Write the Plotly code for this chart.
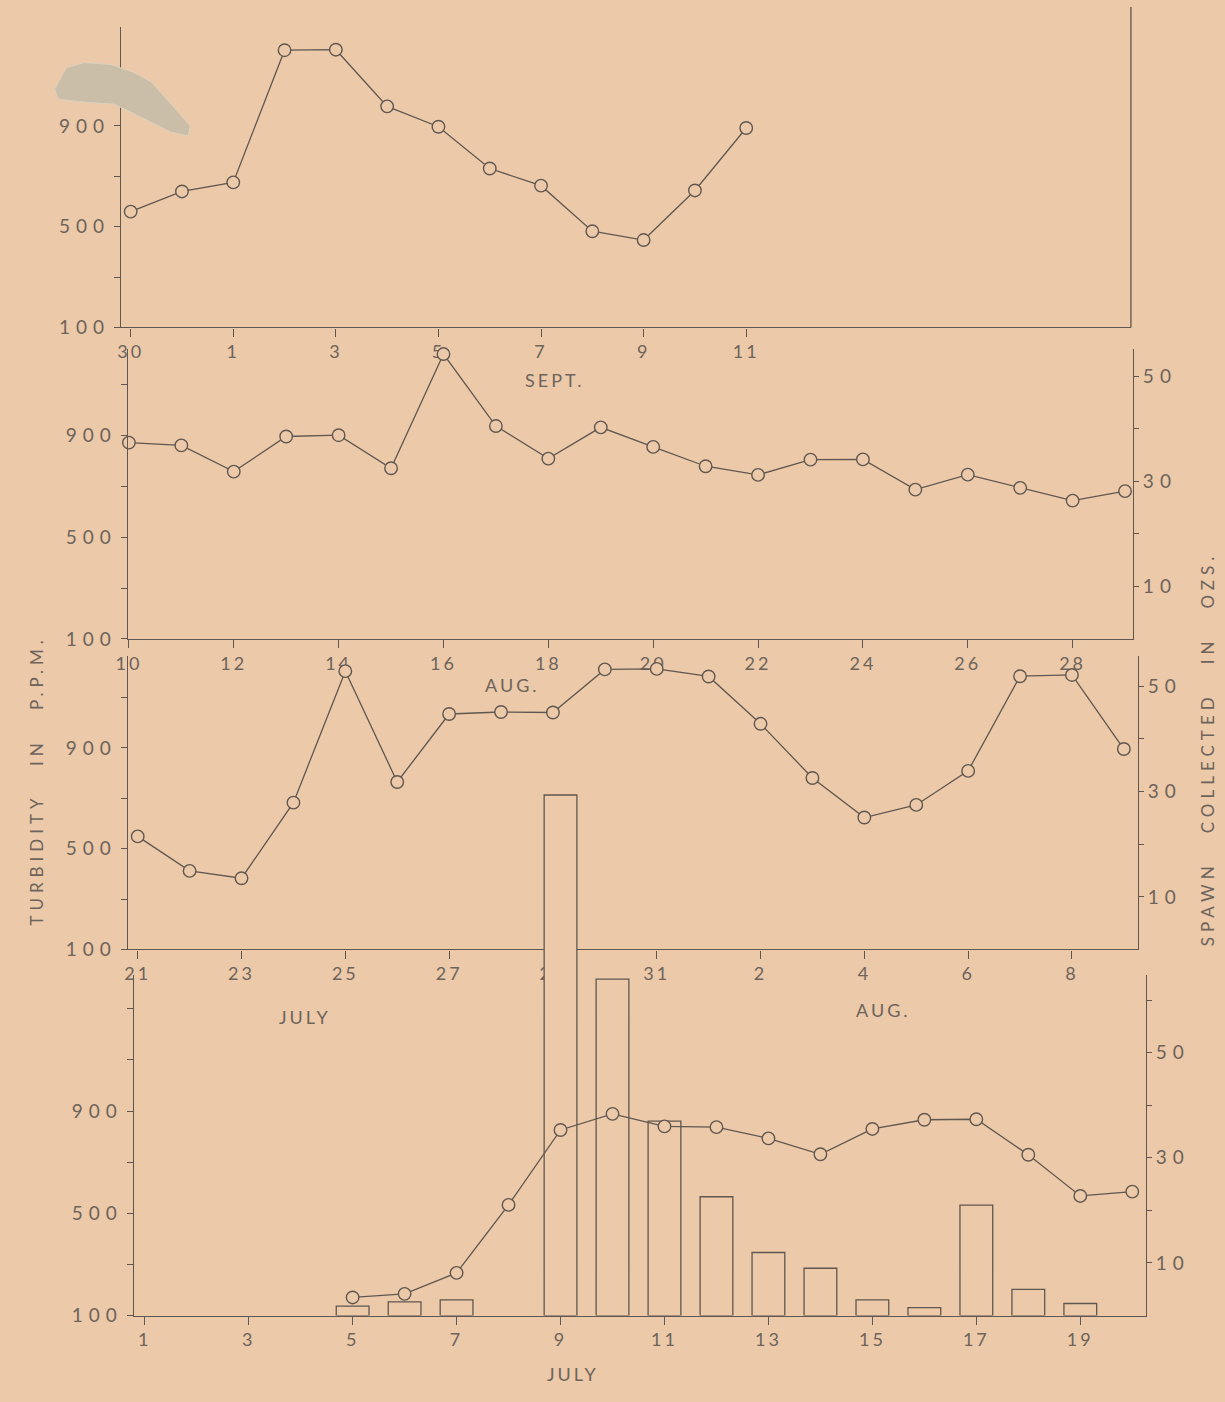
import plotly.graph_objects as go

W, H = 1225, 1402
BG = "#ebc9a9"
INK = "#605750"
TXT = "#6e645b"
FONT = "Lato"

# ---------------- data ----------------
# Panel 1 : Aug 30 - Sept 11
p1_days = ["30", "31", "1", "2", "3", "4", "5", "6", "7", "8", "9", "10", "11"]
p1_turb = [560, 640, 676, 1201, 1203, 978, 897, 731, 663, 482, 447, 644, 892]
p1_ticks = ["30", "1", "3", "5", "7", "9", "11"]

# Panel 2 : Aug 10 - Aug 29
p2_days = ["10", "11", "12", "13", "14", "15", "16", "17", "18", "19",
           "20", "21", "22", "23", "24", "25", "26", "27", "28", "29"]
p2_turb = [872, 861, 758, 896, 901, 771, 1220, 937, 809, 932,
           855, 779, 745, 805, 806, 687, 746, 694, 644, 681]
p2_ticks = ["10", "12", "14", "16", "18", "20", "22", "24", "26", "28"]

# Panel 3 : July 21 - Aug 9
p3_days = ["21", "22", "23", "24", "25", "26", "27", "28", "29", "30", "31",
           "1", "2", "3", "4", "5", "6", "7", "8", "9"]
p3_turb = [549, 412, 383, 683, 1205, 765, 1035, 1043, 1041, 1212, 1214,
           1184, 996, 781, 624, 674, 809, 1185, 1190, 896]
p3_ticks = ["21", "23", "25", "27", "29", "31", "2", "4", "6", "8"]

# Panel 4 : July 1 - July 20
p4_days = ["1", "2", "3", "4", "5", "6", "7", "8", "9", "10",
           "11", "12", "13", "14", "15", "16", "17", "18", "19", "20"]
p4_turb_days = ["5", "6", "7", "8", "9", "10", "11", "12", "13", "14",
                "15", "16", "17", "18", "19", "20"]
p4_turb = [171, 185, 267, 533, 826, 889, 840, 837, 793, 731,
           830, 866, 868, 729, 568, 585]
p4_ticks = ["1", "3", "5", "7", "9", "11", "13", "15", "17", "19"]
spawn_days = ["5", "6", "7", "9", "10", "11", "12", "13", "14", "15", "16", "17", "18", "19"]
spawn_ozs = [1.8, 2.6, 3.0, 99, 64, 37, 22.6, 12, 9, 3, 1.5, 21, 5, 2.3]

turb_ticks = [100, 300, 500, 700, 900, 1100, 1300]
turb_text = ["100", "", "500", "", "900", "", ""]
spawn_ticks = [10, 20, 30, 40, 50, 60]
spawn_text = ["10", "", "30", "", "50", ""]


# ---------------- helpers ----------------
def xdom(a, b):
    return [a / W, b / W]


def ydom(top, bottom):
    return [1 - bottom / H, 1 - top / H]


def spaced(t, ls=3):
    return '<span style="letter-spacing:%dpx">%s</span>' % (ls, t)


common = dict(showline=True, linecolor=INK, linewidth=1.3, showgrid=False,
              zeroline=False, ticks="outside", tickcolor=INK, tickwidth=1.3,
              fixedrange=True)


def xax(days, ticks, rng, dom, anchor):
    return dict(common, type="category", categoryorder="array", categoryarray=days,
                range=rng, domain=dom, anchor=anchor, tickmode="array",
                tickvals=ticks, ticktext=[spaced(t, 3) for t in ticks], ticklen=8,
                tickfont=dict(family=FONT, size=18, color=TXT))


def yleft(rng, dom, anchor):
    return dict(common, range=rng, domain=dom, anchor=anchor, tickmode="array",
                tickvals=turb_ticks, ticktext=[spaced(t, 6) if t else "" for t in turb_text],
                ticklen=6, tickfont=dict(family=FONT, size=19, color=TXT))


def yright(rng, over, anchor):
    return dict(common, range=rng, overlaying=over, anchor=anchor, side="right",
                tickmode="array", tickvals=spawn_ticks,
                ticktext=[spaced(t, 6) if t else "" for t in spawn_text], ticklen=5,
                tickfont=dict(family=FONT, size=19, color=TXT))


line_style = dict(mode="lines+markers", line=dict(color=INK, width=1.3),
                  marker=dict(symbol="circle", size=12.5, color=BG,
                              line=dict(color=INK, width=1.4)),
                  showlegend=False, hoverinfo="skip", cliponaxis=False)

fig = go.Figure()
# panel 1
fig.add_trace(go.Scatter(x=p1_days, y=p1_turb, xaxis="x", yaxis="y", **line_style))
# panel 2
fig.add_trace(go.Scatter(x=p2_days, y=p2_turb, xaxis="x2", yaxis="y2", **line_style))
fig.add_trace(go.Scatter(x=[p2_days[0]], y=[None], xaxis="x2", yaxis="y6",
                         mode="markers", showlegend=False, hoverinfo="skip"))
# panel 3
fig.add_trace(go.Scatter(x=p3_days, y=p3_turb, xaxis="x3", yaxis="y3", **line_style))
fig.add_trace(go.Scatter(x=[p3_days[0]], y=[None], xaxis="x3", yaxis="y7",
                         mode="markers", showlegend=False, hoverinfo="skip"))
# spawn bars (own subplot, taller domain so the big bar rises into panel 3)
fig.add_trace(go.Bar(x=spawn_days, y=spawn_ozs, xaxis="x4", yaxis="y4", width=0.63,
                     marker=dict(color=BG, line=dict(color=INK, width=1.3)),
                     showlegend=False, hoverinfo="skip"))
# panel 4
fig.add_trace(go.Scatter(x=p4_turb_days, y=p4_turb, xaxis="x5", yaxis="y5", **line_style))
fig.add_trace(go.Scatter(x=[p4_days[0]], y=[None], xaxis="x5", yaxis="y8",
                         mode="markers", showlegend=False, hoverinfo="skip"))

P1 = dict(x=(110, 1130), y=(27, 330))
P2 = dict(x=(117, 1132), y=(352, 644))
P3 = dict(x=(117, 1137), y=(661, 957))
P4 = dict(x=(123, 1145), y=(983, 1326))

p4_xrange = [-0.21, 19.26]

fig.update_layout(
    width=W, height=H, margin=dict(l=0, r=0, t=0, b=0),
    paper_bgcolor=BG, plot_bgcolor="rgba(0,0,0,0)", showlegend=False,
    font=dict(family=FONT, color=TXT),
    xaxis=xax(p1_days, p1_ticks, [-0.19, 19.5], xdom(*P1["x"]), "y"),
    yaxis=yleft([100, 1294], ydom(*P1["y"]), "x"),
    xaxis2=xax(p2_days, p2_ticks, [-0.02, 19.15], xdom(*P2["x"]), "y2"),
    yaxis2=yleft([100, 1239], ydom(*P2["y"]), "x2"),
    yaxis6=yright([0, 55.1], "y2", "x2"),
    xaxis3=xax(p3_days, p3_ticks, [-0.19, 19.27], xdom(*P3["x"]), "y3"),
    yaxis3=yleft([100, 1266], ydom(*P3["y"]), "x3"),
    yaxis7=yright([0, 55.8], "y3", "x3"),
    xaxis4=dict(type="category", categoryorder="array", categoryarray=p4_days,
                range=p4_xrange, domain=xdom(*P4["x"]), anchor="y4", visible=False,
                fixedrange=True),
    yaxis4=dict(range=[0, 100], domain=ydom(796, 1326), anchor="x4", visible=False,
                fixedrange=True),
    xaxis5=xax(p4_days, p4_ticks, p4_xrange, xdom(*P4["x"]), "y5"),
    yaxis5=yleft([100, 1431], ydom(*P4["y"]), "x5"),
    yaxis8=yright([0, 64.7], "y5", "x5"),
)

# month labels
month_labels = [("SEPT.", 548, 383), ("AUG.", 505, 690), ("JULY", 296, 1025),
                ("AUG.", 880, 1018), ("JULY", 567, 1385)]
for txt, px, py in month_labels:
    fig.add_annotation(x=px / W, y=1 - py / H, xref="paper", yref="paper",
                       xanchor="center", yanchor="middle",
                       text=spaced(txt, 3), showarrow=False,
                       font=dict(family=FONT, size=18, color=TXT))

# axis titles
fig.add_annotation(x=25 / W, y=1 - 787 / H, xref="paper", yref="paper", textangle=-90,
                   xanchor="center", yanchor="middle",
                   text=spaced("TURBIDITY&nbsp;&nbsp;&nbsp;IN&nbsp;&nbsp;&nbsp;P.P.M.", 5),
                   showarrow=False, font=dict(family=FONT, size=17, color=TXT))
fig.add_annotation(x=1207 / W, y=1 - 755 / H, xref="paper", yref="paper", textangle=-90,
                   xanchor="center", yanchor="middle",
                   text=spaced("SPAWN&nbsp;&nbsp;&nbsp;COLLECTED&nbsp;&nbsp;&nbsp;IN&nbsp;&nbsp;&nbsp;OZS.", 5),
                   showarrow=False, font=dict(family=FONT, size=17, color=TXT))

# right border of the top panel
fig.add_shape(type="line", xref="paper", yref="paper",
              x0=1130 / W, x1=1130 / W, y0=1 - 7 / H, y1=1 - 330 / H,
              line=dict(color=INK, width=1.3))

# scrap of paper stuck on the scan
frag = [(55, 68), (73, 63), (100, 65), (123, 73), (140, 82), (150, 93), (167, 112),
        (180, 127), (178, 137), (160, 133), (140, 123), (120, 113), (103, 105),
        (73, 103), (47, 100), (43, 90), (50, 77)]
path = "M " + " L ".join("%.5f,%.5f" % (a / W, 1 - b / H) for a, b in frag) + " Z"
fig.add_shape(type="path", xref="paper", yref="paper", path=path,
              fillcolor="#cbbea8", line=dict(color="#ddd2bf", width=1), layer="above")

fig.write_html("out.html", config={"displayModeBar": False},
               post_script="document.body.style.margin='0';"
                           "document.body.style.overflow='hidden';"
                           "document.body.style.background='%s';" % BG)
